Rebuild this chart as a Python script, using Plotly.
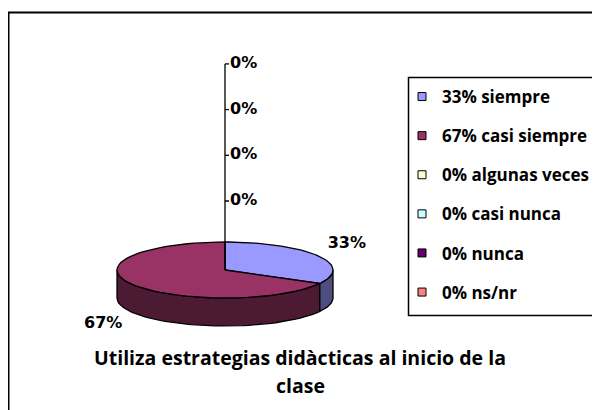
import numpy as np
import plotly.graph_objects as go

# data
labels = ["siempre", "casi siempre", "algunas veces", "casi nunca", "nunca", "ns/nr"]
percents = [33, 67, 0, 0, 0, 0]
top_colors = ["#9999FF", "#993366", "#FFFFCC", "#CCFFFF", "#660066", "#FF8080"]
side_colors = ["#4D4D80", "#4D1A33", "#80806A", "#6A8080", "#330033", "#804040"]
title_lines = ["Utiliza estrategias didàcticas al inicio de la", "clase"]

# the page has an 8px body margin, so the axes run from 8 to 608 / 8 to 418
OFF = 8
W, H = 600, 410

# geometry of the tilted pie (screen pixels)
cx, cy = 225, 270
rx, ry = 108, 28
depth = 28

LBL_FONT = dict(family="DejaVu Sans", size=16, color="black", weight="bold")
TXT_FAMILY = "Open Sans, Lato"


def arc(a0, a1, dy=0, n=60):
    t = np.radians(np.linspace(a0, a1, n))
    return list(cx + rx * np.sin(t)), list(cy - ry * np.cos(t) + dy)


def px_x(x):
    return (x - OFF) / W


def px_y(y):
    return 1 - (y - OFF) / H


fig = go.Figure()

total = sum(percents)
edges = np.concatenate([[0], np.cumsum(percents) / total * 360])

# side walls (front half only: 90..270 deg clockwise from top)
for i, p in enumerate(percents):
    a0, a1 = edges[i], edges[i + 1]
    lo, hi = max(a0, 90), min(a1, 270)
    if p == 0 or lo >= hi:
        continue
    xt, yt = arc(lo, hi)
    xb, yb = arc(hi, lo, depth)
    fig.add_trace(go.Scatter(x=xt + xb + [xt[0]], y=yt + yb + [yt[0]], mode="lines",
                             fill="toself", fillcolor=side_colors[i],
                             line=dict(color="black", width=1.3),
                             hoverinfo="skip", showlegend=False))

# top faces
for i, p in enumerate(percents):
    if p == 0:
        continue
    xa, ya = arc(edges[i], edges[i + 1])
    fig.add_trace(go.Scatter(x=[cx] + xa + [cx], y=[cy] + ya + [cy], mode="lines",
                             fill="toself", fillcolor=top_colors[i],
                             line=dict(color="black", width=1.3),
                             hovertext=f"{labels[i]}: {p}%", hoverinfo="text",
                             showlegend=False))

# labels of the non-zero slices
for i, p in enumerate(percents):
    if p == 0:
        continue
    mid = np.radians((edges[i] + edges[i + 1]) / 2)
    lx = cx + 1.31 * rx * np.sin(mid)
    ly = cy - 1.8 * ry * np.cos(mid) + (depth if np.cos(mid) < 0 else 0)
    fig.add_trace(go.Scatter(x=[lx], y=[ly], mode="text", text=[f"{p}%"],
                             textfont=LBL_FONT, hoverinfo="skip", showlegend=False))

# zero slices: labels stacked above the pie on a leader line
zeros = [i for i, p in enumerate(percents) if p == 0]
step = 45.7
zy = [201 - k * step for k in range(len(zeros))]
lead_x = [cx, cx]
lead_y = [cy, zy[-1]]
for y in zy:
    lead_x += [cx, cx + 4, None]
    lead_y += [y, y, None]
fig.add_trace(go.Scatter(x=lead_x, y=lead_y, mode="lines",
                         line=dict(color="black", width=1.3),
                         hoverinfo="skip", showlegend=False))
fig.add_trace(go.Scatter(x=[cx + 5] * len(zeros), y=zy, mode="text",
                         text=[f"{percents[i]}%" for i in zeros], textposition="middle right",
                         textfont=LBL_FONT, hoverinfo="skip", showlegend=False))

# legend entries
for i, lab in enumerate(labels):
    fig.add_trace(go.Scatter(x=[None], y=[None], mode="markers", name=f"{percents[i]}% {lab}",
                             legendgroup=lab,
                             marker=dict(symbol="square", size=8, color=top_colors[i],
                                         line=dict(color="black", width=1))))

for k, line in enumerate(title_lines):
    fig.add_annotation(x=300, y=357 + 28 * k, text=line, showarrow=False,
                       font=dict(family=TXT_FAMILY, size=19.5, color="black", weight="bold"))

# outer chart border and legend box
fig.add_shape(type="rect", x0=8.5, y0=12.5, x1=640, y1=440,
              line=dict(color="black", width=2))
fig.add_shape(type="rect", x0=408.5, y0=77.5, x1=597.5, y1=315.5,
              line=dict(color="black", width=1.5))

fig.update_layout(
    width=W, height=H, autosize=False,
    margin=dict(l=0, r=0, t=0, b=0),
    paper_bgcolor="white", plot_bgcolor="white",
    xaxis=dict(range=[OFF, W + OFF], visible=False, fixedrange=True),
    yaxis=dict(range=[H + OFF, OFF], visible=False, fixedrange=True),
    legend=dict(x=px_x(402), y=px_y(79), xanchor="left", yanchor="top",
                borderwidth=0, bgcolor="rgba(0,0,0,0)",
                font=dict(family=TXT_FAMILY, size=17, color="black", weight="bold"),
                tracegroupgap=14, itemwidth=30),
)

fig.write_html("out.html")
